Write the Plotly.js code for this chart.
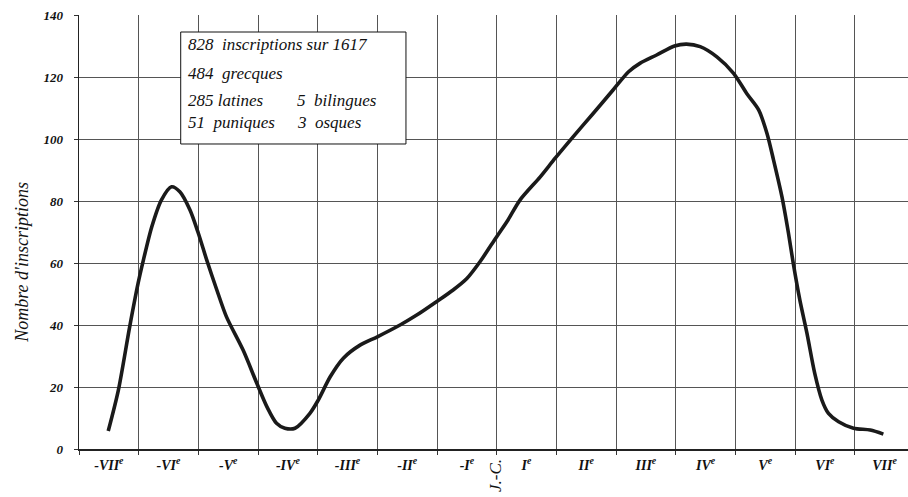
<!DOCTYPE html>
<html>
<head>
<meta charset="utf-8">
<script src="https://cdn.plot.ly/plotly-3.0.1.min.js"></script>
<style>html,body{margin:0;padding:0;background:#fff;}#chart{width:908px;height:497px;}</style>
</head>
<body>
<div id="chart"></div>
<script>
// Curve: approximate year (negative = BC) and number of inscriptions
const years = [-651,-634,-615,-601,-592,-578,-562,-545,-531,-514,-500,-486,-469,-453,-425,-402,-385,-369,-355,-338,-313,-299,-279,-257,-229,-200,-162,-134,-101,-73,-50,-28,0,19,39,73,98,128,162,195,221,240,268,298,318,341,369,397,419,439,453,464,478,489,497,508,520,533,545,556,573,598,626,648];
const counts = [5.8,19,39.5,53.4,61,71.7,80.3,84.6,83,77.1,69.6,61,51.3,42.7,31.9,21.2,13.6,8.3,6.7,6.7,11.5,15.8,23.3,29.3,33.5,36.2,40,43.2,47.5,51.3,55,60.4,68.5,73.9,80.3,87.8,93.8,100.7,108.3,115.8,121.7,124.4,127.1,130,130.6,129.8,126.5,121.2,114.7,109.4,101.8,93.2,81.4,69.6,59.9,48.1,37.3,24.4,15.8,11.5,8.8,6.7,6.1,4.8];

// Century boundaries (grid lines) and century label positions
const centuryBounds = [-700,-600,-500,-400,-300,-200,-100,0,100,200,300,400,500,600];
const centuryCenters = [-650,-550,-450,-350,-250,-150,-50,50,150,250,350,450,550,650];
const centuryLabels = ['-VII<sup>e</sup>','-VI<sup>e</sup>','-V<sup>e</sup>','-IV<sup>e</sup>','-III<sup>e</sup>','-II<sup>e</sup>','-I<sup>e</sup>','I<sup>e</sup>','II<sup>e</sup>','III<sup>e</sup>','IV<sup>e</sup>','V<sup>e</sup>','VI<sup>e</sup>','VII<sup>e</sup>'];
const yTicks = [0,20,40,60,80,100,120,140];

// Summary box lines
const boxLeft = ['828  inscriptions sur 1617','484  grecques','285 latines','51  puniques'];
const boxRight = ['','','5  bilingues','3  osques'];

const serif = 'Liberation Serif';
const xRange = [-700, 689.3];

const traces = [
  {
    x: years, y: counts, type: 'scatter', mode: 'lines',
    line: {color: '#1a1a1a', width: 3.6, shape: 'spline', smoothing: 0.8},
    hoverinfo: 'skip', showlegend: false
  },
  {x: [], y: [], xaxis: 'x2', yaxis: 'y', type: 'scatter', mode: 'lines', showlegend: false, hoverinfo: 'skip'}
];

// Box positions in paper coordinates
const boxLineY = [0.931, 0.866, 0.8035, 0.7515];
const boxFont = {family: serif, size: 17, style: 'italic', color: '#111'};
const annotations = [];
boxLeft.forEach((t, i) => {
  annotations.push({xref: 'paper', yref: 'paper', x: 0.1285, y: boxLineY[i], xanchor: 'left', yanchor: 'middle',
    text: t, showarrow: false, font: boxFont});
  if (boxRight[i]) {
    annotations.push({xref: 'paper', yref: 'paper', x: 0.2605, y: boxLineY[i], xanchor: 'left', yanchor: 'middle',
      text: boxRight[i], showarrow: false, font: boxFont});
  }
});
annotations.push({xref: 'x', yref: 'paper', x: -3, y: -0.06, xanchor: 'center', yanchor: 'middle',
  text: 'J.-C.', textangle: -90, showarrow: false, font: {family: serif, size: 17, style: 'italic', color: '#111'}});
annotations.push({xref: 'paper', yref: 'paper', x: -0.069, y: 0.431, xanchor: 'center', yanchor: 'middle',
  text: "Nombre d'inscriptions", textangle: -90, showarrow: false, font: {family: serif, size: 18, style: 'italic', color: '#111'}});

const layout = {
  width: 908, height: 497,
  margin: {l: 79, r: 0, t: 15, b: 48},
  paper_bgcolor: '#fff', plot_bgcolor: '#fff',
  showlegend: false,
  font: {family: serif},
  xaxis: {
    range: xRange, tickmode: 'array', tickvals: centuryBounds, showticklabels: false,
    ticks: 'outside', ticklen: 4, tickcolor: '#333', tickwidth: 1,
    showgrid: true, gridcolor: '#555', gridwidth: 1,
    showline: true, linecolor: '#222', linewidth: 1.5, zeroline: false, fixedrange: true
  },
  xaxis2: {
    overlaying: 'x', anchor: 'y', side: 'bottom', range: xRange,
    tickmode: 'array', tickvals: centuryCenters, ticktext: centuryLabels,
    ticks: '', showgrid: false, showline: false, zeroline: false,
    tickfont: {family: serif, size: 14, style: 'italic', weight: 'bold', color: '#111'},
    ticklabelstandoff: 6
  },
  yaxis: {
    range: [0, 140], tickmode: 'array', tickvals: yTicks,
    ticks: 'outside', ticklen: 4, tickcolor: '#333',
    showgrid: true, gridcolor: '#555', gridwidth: 1,
    showline: true, linecolor: '#222', linewidth: 1.5, zeroline: false,
    tickfont: {family: serif, size: 13, style: 'italic', weight: 'bold', color: '#111'},
    ticklabelstandoff: 8
  },
  shapes: [
    {type: 'rect', xref: 'paper', yref: 'paper', x0: 0.1227, x1: 0.3944, y0: 0.7028, y1: 0.9608,
     fillcolor: '#fff', line: {color: '#111', width: 1}, layer: 'above'}
  ],
  annotations: annotations
};

Plotly.newPlot('chart', traces, layout, {displayModeBar: false, staticPlot: true});
</script>
</body>
</html>
